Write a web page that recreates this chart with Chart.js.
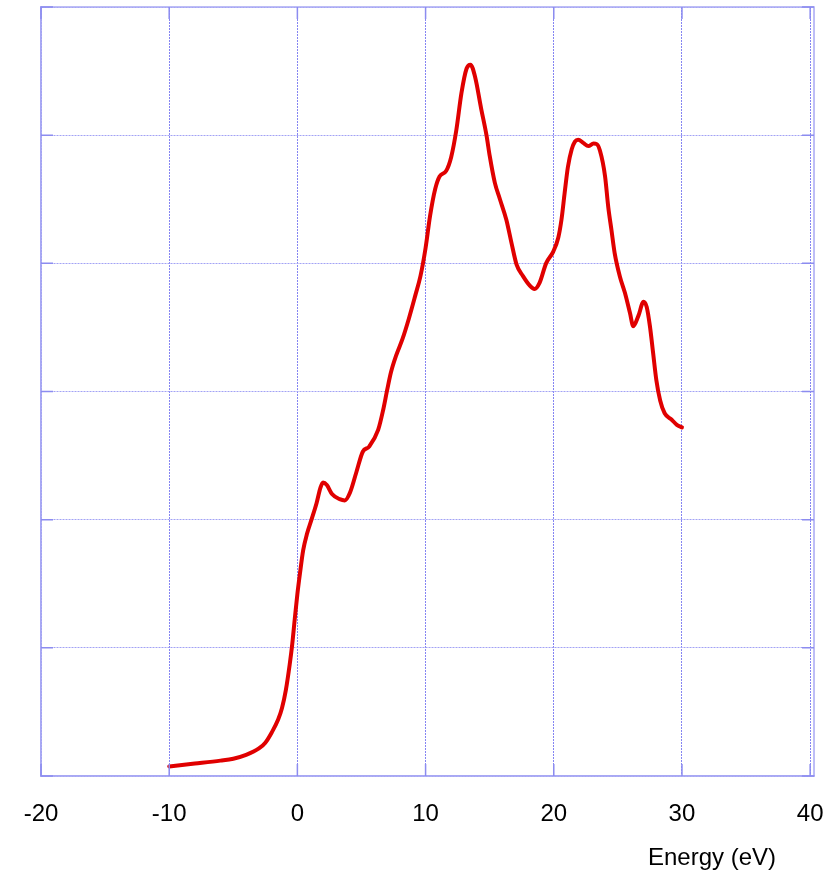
<!DOCTYPE html>
<html>
<head>
<meta charset="utf-8">
<script src="https://cdn.jsdelivr.net/npm/chart.js@4/dist/chart.umd.min.js"></script>
<style>
  html, body { margin: 0; padding: 0; background: #fff; }
  #wrap { width: 836px; height: 871px; }
</style>
</head>
<body>
<div id="wrap"><canvas id="chart"></canvas></div>
<script>
// energy axis (eV) and curve values
const energy = [-10, -8, -6, -5, -4, -3, -2.5, -2, -1.5, -1.2, -0.9, -0.6, -0.4, -0.2, 0, 0.2, 0.45, 0.75, 1.1, 1.5,
  1.8, 2.0, 2.3, 2.7, 3.3, 3.7, 4.1, 4.6, 5.1, 5.6, 6.3, 6.7, 7.0, 7.3, 7.7, 8.2, 8.7, 9.2, 9.6, 10.0,
  10.35, 10.75, 11.1, 11.6, 12.0, 12.4, 12.8, 13.2, 13.5, 13.85, 14.35, 14.75, 15.0, 15.4, 15.8, 16.3, 16.7, 17.1, 17.6, 18.1,
  18.5, 18.9, 19.4, 19.95, 20.35, 20.6, 20.85, 21.1, 21.4, 21.65, 21.9, 22.3, 22.7, 23.1, 23.35, 23.6, 24.0, 24.25, 24.5, 24.75,
  25.15, 25.55, 25.95, 26.2, 26.6, 27.0, 27.25, 27.5, 27.75, 28.0, 28.3, 28.65, 29.2, 29.6, 30.0];
const intensity = [0.075, 0.097, 0.12, 0.135, 0.165, 0.215, 0.26, 0.34, 0.44, 0.53, 0.67, 0.87, 1.03, 1.23, 1.42, 1.58, 1.76, 1.89, 2.0, 2.13,
  2.25, 2.29, 2.27, 2.2, 2.16, 2.15, 2.21, 2.37, 2.53, 2.57, 2.70, 2.86, 3.01, 3.15, 3.28, 3.41, 3.57, 3.75, 3.9, 4.12,
  4.37, 4.58, 4.68, 4.72, 4.83, 5.04, 5.33, 5.52, 5.55, 5.46, 5.2, 5.0, 4.84, 4.63, 4.5, 4.34, 4.16, 3.99, 3.9, 3.83,
  3.8, 3.85, 4.0, 4.09, 4.2, 4.34, 4.55, 4.75, 4.89, 4.95, 4.965, 4.94, 4.915, 4.935, 4.93, 4.88, 4.68, 4.44, 4.26, 4.08,
  3.9, 3.77, 3.61, 3.51, 3.59, 3.70, 3.66, 3.51, 3.3, 3.09, 2.93, 2.83, 2.78, 2.74, 2.72];

const xTicks = [-20, -10, 0, 10, 20, 30, 40];
const yTicks = [0, 1, 2, 3, 4, 5, 6];
const xTitle = "Energy (eV)";

const borderBlue = "#a8a8f4";
const gridBlueX = "#8585f2";
const gridBlueY = "#a2a2f5";

// frame + inward tick marks + axis title
const framePlugin = {
  id: "frame",
  afterDraw(chart) {
    const { ctx, chartArea: a, scales } = chart;
    ctx.save();
    ctx.strokeStyle = borderBlue;
    ctx.lineWidth = 1.5;
    ctx.strokeRect(a.left, a.top, a.right - a.left, a.bottom - a.top);

    ctx.strokeStyle = "#8c8cf0";
    ctx.lineWidth = 1.5;
    const len = 12;
    ctx.beginPath();
    xTicks.forEach((v) => {
      const px = scales.x.getPixelForValue(v);
      ctx.moveTo(px, a.top); ctx.lineTo(px, a.top + len);
      ctx.moveTo(px, a.bottom); ctx.lineTo(px, a.bottom - len);
    });
    yTicks.forEach((v) => {
      const py = scales.y.getPixelForValue(v);
      ctx.moveTo(a.left, py); ctx.lineTo(a.left + len, py);
      ctx.moveTo(a.right, py); ctx.lineTo(a.right - len, py);
    });
    ctx.stroke();

    ctx.fillStyle = "#000";
    ctx.font = "24px 'Liberation Sans', Arial, sans-serif";
    ctx.textAlign = "right";
    ctx.textBaseline = "middle";
    ctx.fillText(xTitle, a.right - 38, a.bottom + 82);
    ctx.restore();
  },
};

new Chart(document.getElementById("chart"), {
  type: "line",
  data: {
    datasets: [
      {
        data: energy.map((e, i) => ({ x: e, y: intensity[i] })),
        borderColor: "#e00000",
        borderWidth: 4,
        pointRadius: 0,
        fill: false,
        cubicInterpolationMode: "monotone",
        borderCapStyle: "round",
        borderJoinStyle: "round",
      },
    ],
  },
  options: {
    responsive: true,
    maintainAspectRatio: false,
    animation: false,
    layout: { padding: { top: 7, right: 22, left: 0, bottom: 0 } },
    plugins: { legend: { display: false }, tooltip: { enabled: false } },
    scales: {
      x: {
        type: "linear",
        min: -20,
        max: 40.3,
        afterBuildTicks: (axis) => { axis.ticks = xTicks.map((v) => ({ value: v })); },
        afterFit: (axis) => {
          axis.height = 95;
          axis.paddingLeft = 0;
          axis.paddingRight = 0;
        },
        grid: { color: gridBlueX, lineWidth: 1, drawTicks: false },
        border: { color: borderBlue, width: 1.5, dash: [2, 1] },
        ticks: {
          color: "#000",
          padding: 24,
          maxRotation: 0,
          font: { family: "'Liberation Sans', Arial, sans-serif", size: 24 },
        },
      },
      y: {
        type: "linear",
        min: 0,
        max: 6,
        afterBuildTicks: (axis) => { axis.ticks = yTicks.map((v) => ({ value: v })); },
        afterFit: (axis) => {
          axis.width = 41;
          axis.paddingTop = 0;
          axis.paddingBottom = 0;
        },
        grid: { color: gridBlueY, lineWidth: 1, drawTicks: false },
        border: { color: borderBlue, width: 1.5, dash: [2, 1] },
        ticks: { display: false },
      },
    },
  },
  plugins: [framePlugin],
});
</script>
</body>
</html>
